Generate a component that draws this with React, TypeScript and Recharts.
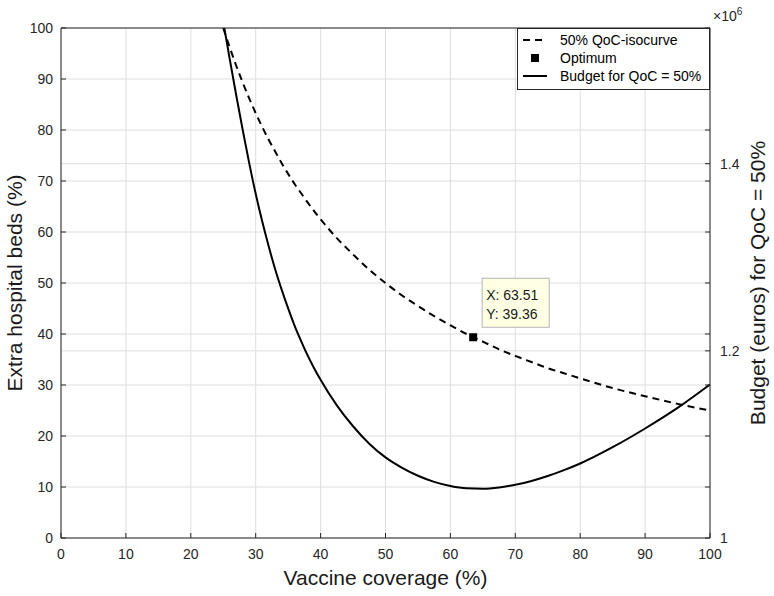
import React from 'react';
import { ComposedChart, Line, Scatter, XAxis, YAxis, CartesianGrid, Legend } from 'recharts';

// vaccine coverage (%) sampled along both curves
const coverage = [
  25, 26, 27, 28, 29, 30, 31, 32, 33, 34, 35, 36, 37, 38, 39, 40, 42.5, 45, 47.5, 50,
  52.5, 55, 57.5, 60, 62.5, 65, 67.5, 70, 72.5, 75, 77.5, 80, 85, 90, 95, 100,
];
// 50% QoC iso-curve, extra hospital beds (%)
const isocurveBeds = [
  100, 96.2, 92.6, 89.3, 86.2, 83.3, 80.6, 78.1, 75.8, 73.5, 71.4, 69.4, 67.6, 65.8, 64.1, 62.5, 58.8, 55.6, 52.6, 50,
  47.6, 45.5, 43.5, 41.7, 40, 38.5, 37, 35.7, 34.5, 33.3, 32.3, 31.3, 29.4, 27.8, 26.3, 25,
];
// budget for QoC = 50% (x 10^6 euros)
const budgetMillions = [
  1.5515, 1.5118, 1.4731, 1.436, 1.4006, 1.3679, 1.3384, 1.3117, 1.2872, 1.2654, 1.2453, 1.2267, 1.2104, 1.1951, 1.1815, 1.169, 1.1417, 1.1194, 1.1008, 1.0861,
  1.0752, 1.0665, 1.06, 1.0556, 1.0531, 1.0526, 1.054, 1.057, 1.061, 1.0662, 1.0725, 1.0796, 1.097, 1.117, 1.139, 1.164,
];
const optimumCoverage = 63.51;
const optimumBeds = 39.36;

const xTicks = [0, 10, 20, 30, 40, 50, 60, 70, 80, 90, 100];
const bedTicks = [0, 10, 20, 30, 40, 50, 60, 70, 80, 90, 100];
const budgetLabels = [1, 1.2, 1.4];
const budgetDomain = [1, 1.545];

const isoName = '50% QoC-isocurve';
const optimumName = 'Optimum';
const budgetName = 'Budget for QoC = 50%';

const isoData = coverage.map((c, i) => ({ coverage: c, beds: isocurveBeds[i] }));
const budgetData = coverage.map((c, i) => ({ coverage: c, budget: budgetMillions[i] }));
const optimumData = [{ coverage: optimumCoverage, beds: optimumBeds }];

// left ticks mirrored on the right side (box on), plus the labelled budget ticks
const budgetSpan = budgetDomain[1] - budgetDomain[0];
const rightTicks = Array.from(
  new Set([...bedTicks.map((b) => budgetDomain[0] + (b / 100) * budgetSpan), ...budgetLabels])
).sort((a, b) => a - b);
const isLabel = (v: number) => budgetLabels.some((t) => Math.abs(t - v) < 1e-9);

const AXIS = '#262626';
const GRID = '#dedede';
const tickStyle = { fill: AXIS, fontSize: 14 };

const OptimumTip = (props: any) => {
  const { cx, cy } = props;
  if (cx == null || cy == null) return null;
  return (
    <g>
      <rect x={cx + 9} y={cy - 59} width={67} height={49} fill="#ffffe3" stroke="#b5b5b5" />
      <text x={cx + 13} y={cy - 37} fontSize={14} fill="#1a1a1a">
        X: {optimumCoverage.toFixed(2)}
      </text>
      <text x={cx + 13} y={cy - 18} fontSize={14} fill="#1a1a1a">
        Y: {optimumBeds.toFixed(2)}
      </text>
      <rect x={cx - 4} y={cy - 4} width={8} height={8} fill="#000" />
    </g>
  );
};

const LegendBox = () => (
  <svg width={193} height={62} style={{ display: 'block' }}>
    <rect x={0.5} y={0.5} width={192} height={61} fill="#fff" stroke={AXIS} />
    <line x1={6} x2={30} y1={12} y2={12} stroke="#000" strokeWidth={2} strokeDasharray="7 5" />
    <text x={43} y={17} fontSize={14} fill="#000">{isoName}</text>
    <rect x={14} y={26} width={8} height={8} fill="#000" />
    <text x={43} y={35} fontSize={14} fill="#000">{optimumName}</text>
    <line x1={6} x2={30} y1={48} y2={48} stroke="#000" strokeWidth={2} />
    <text x={43} y={53} fontSize={14} fill="#000">{budgetName}</text>
  </svg>
);

export default function App() {
  return (
    <div
      style={{
        position: 'absolute',
        left: 0,
        top: 0,
        width: 774,
        height: 596,
        background: '#fff',
        fontFamily: '"Liberation Sans", Arial, Helvetica, sans-serif',
      }}
    >
      <ComposedChart width={774} height={596} margin={{ top: 27, right: 0, bottom: 0, left: 0 }}>
        <CartesianGrid xAxisId={0} yAxisId="budget" stroke={GRID} />
        <XAxis
          xAxisId={0}
          dataKey="coverage"
          type="number"
          domain={[0, 100]}
          ticks={xTicks}
          interval={0}
          height={58}
          stroke={AXIS}
          tick={tickStyle}
          tickSize={-5}
          tickMargin={16}
          label={{ value: 'Vaccine coverage (%)', position: 'center', dy: 11, fontSize: 21, fill: '#1a1a1a' }}
        />
        <XAxis
          xAxisId="top"
          orientation="top"
          type="number"
          domain={[0, 100]}
          ticks={xTicks}
          interval={0}
          height={1}
          stroke={AXIS}
          tick={false}
          tickSize={-5}
        />
        <YAxis
          yAxisId="beds"
          type="number"
          domain={[0, 100]}
          ticks={bedTicks}
          interval={0}
          width={61}
          stroke={AXIS}
          tick={tickStyle}
          tickSize={-5}
          tickMargin={13}
          label={{ value: 'Extra hospital beds (%)', angle: -90, position: 'center', dx: -16, fontSize: 21, fill: '#1a1a1a' }}
        />
        <YAxis
          yAxisId="budget"
          orientation="right"
          type="number"
          domain={budgetDomain}
          allowDataOverflow
          ticks={rightTicks}
          interval={0}
          width={64}
          stroke={AXIS}
          tick={tickStyle}
          tickSize={-5}
          tickMargin={15}
          tickFormatter={(v: number) => (isLabel(v) ? String(v) : '')}
          label={{ value: 'Budget (euros) for QoC = 50%', angle: -90, position: 'center', dx: 16, fontSize: 21, fill: '#1a1a1a' }}
        />
        <Legend
          layout="vertical"
          align="center"
          verticalAlign="middle"
          wrapperStyle={{ top: 28, left: 517, width: 193 }}
          content={() => <LegendBox />}
        />
        <Line
          xAxisId={0}
          yAxisId="beds"
          data={isoData}
          dataKey="beds"
          name={isoName}
          type="monotone"
          stroke="#000"
          strokeWidth={2}
          strokeDasharray="7 5"
          dot={false}
          activeDot={false}
          isAnimationActive={false}
        />
        <Line
          xAxisId={0}
          yAxisId="budget"
          data={budgetData}
          dataKey="budget"
          name={budgetName}
          type="monotone"
          stroke="#000"
          strokeWidth={2}
          dot={false}
          activeDot={false}
          isAnimationActive={false}
        />
        <Scatter
          xAxisId={0}
          yAxisId="beds"
          data={optimumData}
          dataKey="beds"
          name={optimumName}
          shape={<OptimumTip />}
          isAnimationActive={false}
        />
      </ComposedChart>
      <div style={{ position: 'absolute', left: 713, top: 6, fontSize: 14, color: AXIS, whiteSpace: 'nowrap' }}>
        ×10<sup style={{ fontSize: 10 }}>6</sup>
      </div>
    </div>
  );
}
